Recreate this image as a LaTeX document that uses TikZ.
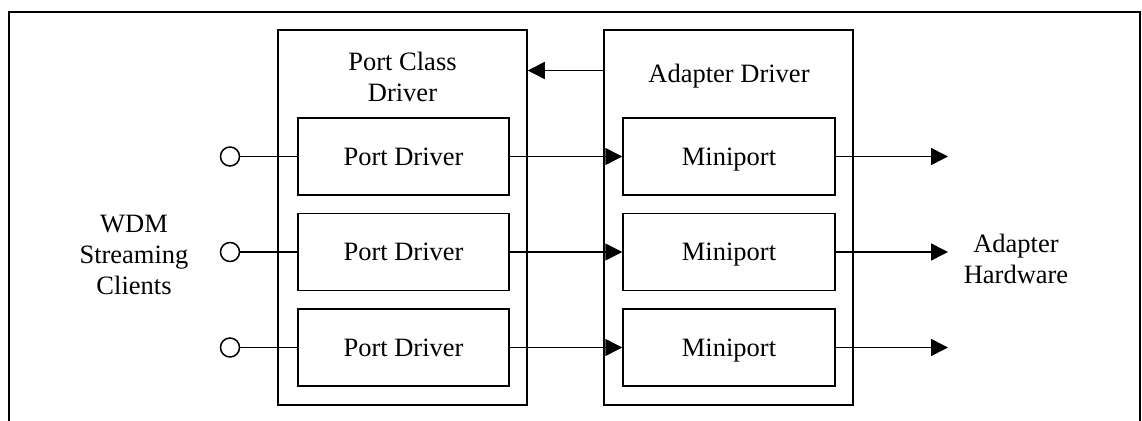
\documentclass[tikz,border=0pt]{standalone}
\usepackage{fontspec}
\setmainfont{Liberation Serif}
\usetikzlibrary{arrows.meta}
\tikzset{
  box/.style={draw, line width=1.5pt, minimum width=211pt, minimum height=77pt, inner sep=0pt, text depth=0pt},
  drvbox/.style={draw, line width=1.5pt, minimum width=249pt, minimum height=375pt},
  client/.style={draw, circle, line width=1.5pt, minimum size=19pt, inner sep=0pt},
  link/.style={line width=1.5pt},
  flow/.style={line width=1.5pt, -{Triangle[length=17pt,width=17pt]}}
}
\begin{document}
\begin{tikzpicture}[x=1pt,y=-1pt,font=\fontsize{26.5}{31}\selectfont]
  \useasboundingbox (0,0) rectangle (1142,420);
  \draw[line width=2pt] (9,422) -- (9,12) -- (1140,12) -- (1140,422);
  \node[drvbox] (pcd) at (402.5,217.5) {};
  \node[drvbox] (ad) at (728.5,217.5) {};
  \node[align=center] (pcdlbl) at (402.5,77) {Port Class\\Driver};
  \node[text depth=0pt] (adlbl) at (729,73) {Adapter Driver};
  \coordinate (up) at (0,70.5);
  \draw[flow] (ad.west |- up) -- (pcd.east |- up);
  \foreach \i/\y in {1/156.5,2/252,3/347.5} {
    \node[box] (pd\i) at (403.5,\y) {Port Driver};
    \node[box, minimum width=212pt] (mp\i) at (729,\y) {Miniport};
    \node[client] (cl\i) at (230,\y) {};
    \coordinate (hw\i) at (948,\y);
    \draw[link] (cl\i) -- (pd\i);
    \draw[flow] (pd\i) -- (mp\i);
    \draw[flow] (mp\i) -- (hw\i);
  }
  \node[align=center] (wdm) at (134,255) {WDM\\Streaming\\Clients};
  \node[align=center] (hw) at (1016,259) {Adapter\\Hardware};
\end{tikzpicture}
\end{document}
